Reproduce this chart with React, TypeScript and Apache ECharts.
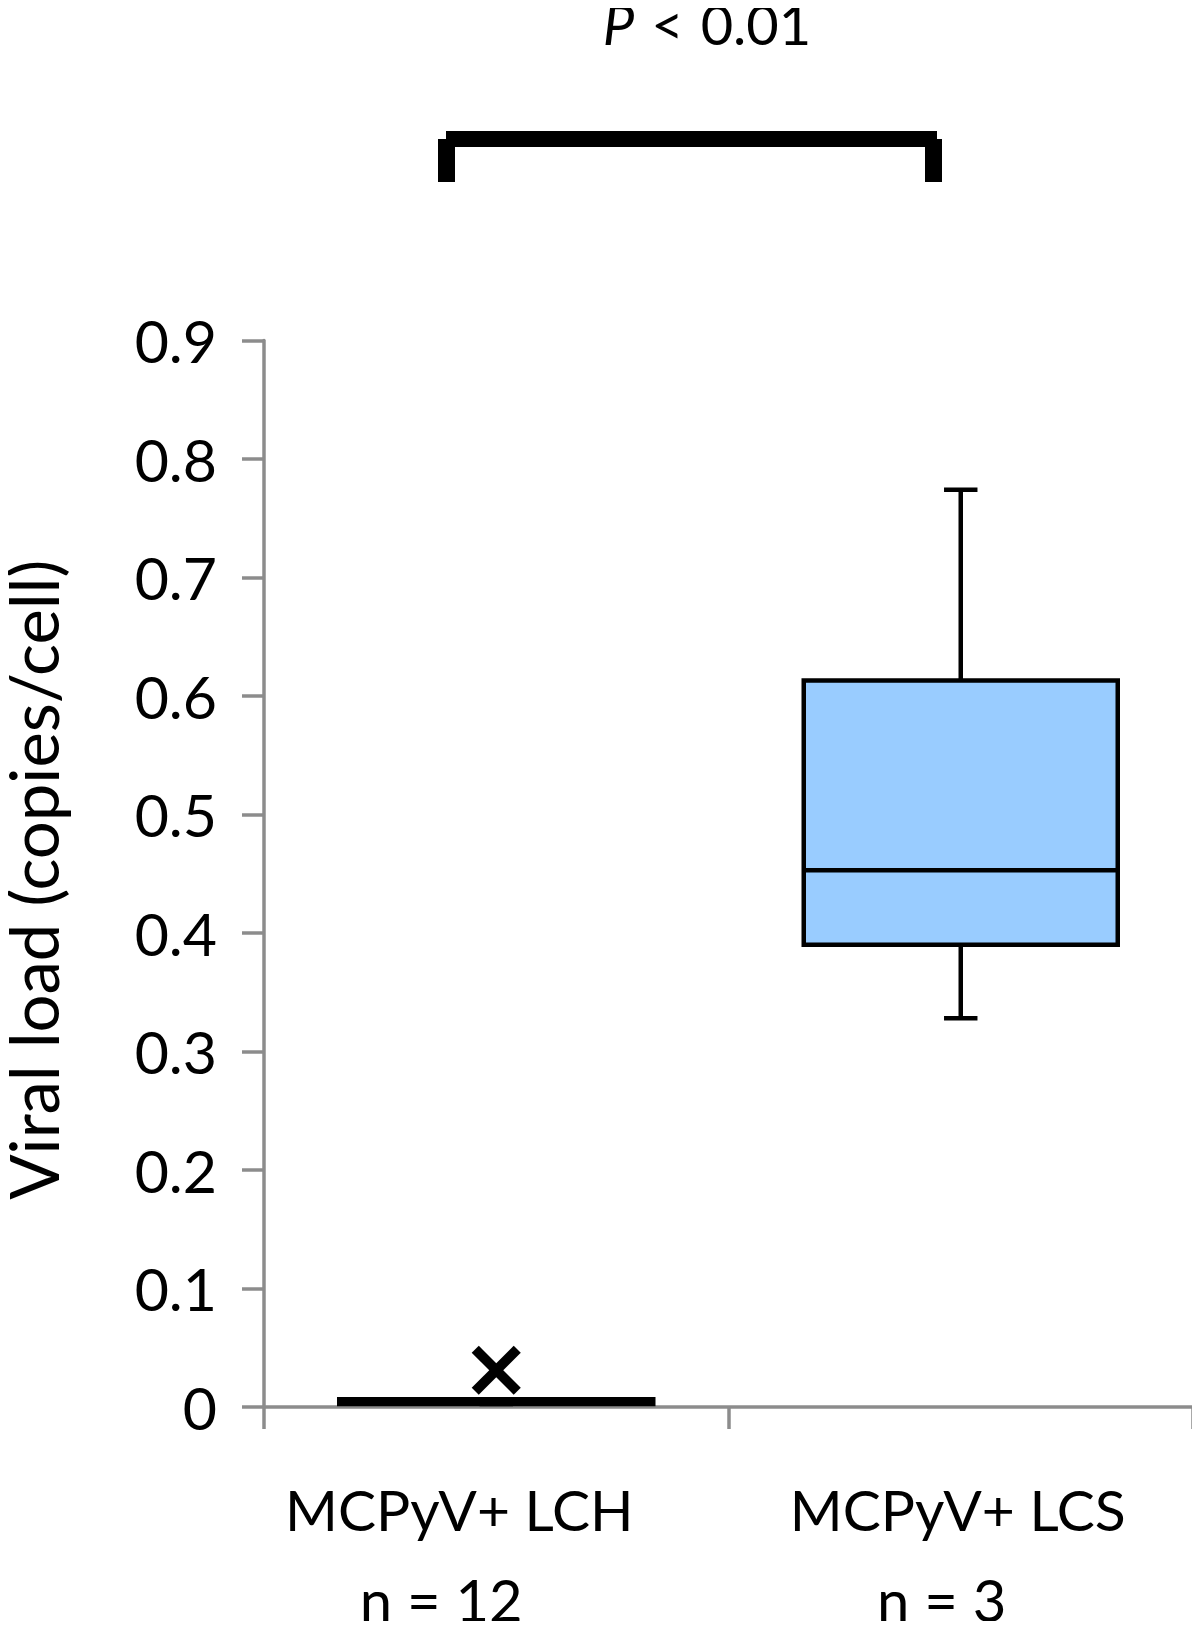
import React, { useEffect, useRef } from "react";
import * as echarts from "echarts";

const categories = ["MCPyV+ LCH", "MCPyV+ LCS"];
const nLabels = ["n = 12", "n = 3"];
const minVals = [0.0025, 0.328];
const q1Vals = [0.0025, 0.39];
const medianVals = [0.0045, 0.453];
const q3Vals = [0.0065, 0.613];
const maxVals = [0.0065, 0.774];
const meanVals: (number | null)[] = [0.031, null];
const yTicks = [0, 0.1, 0.2, 0.3, 0.4, 0.5, 0.6, 0.7, 0.8, 0.9];
const pText = ["P", "<", "0.01"];

const FONT = "Lato";

export default function App() {
  const ref = useRef<HTMLDivElement>(null);
  useEffect(() => {
    if (!ref.current) return;
    const chart = echarts.init(ref.current, null, { renderer: "svg" });
    const data = categories.map((_, i) => [
      i,
      minVals[i],
      q1Vals[i],
      medianVals[i],
      q3Vals[i],
      maxVals[i],
      meanVals[i] == null ? "-" : meanVals[i],
    ]);
    const line1Pad = [74, 6];
    const line2Pad = [110, 38];
    const rich: any = {};
    categories.forEach((_, i) => {
      rich["a" + i] = {
        fontFamily: FONT,
        fontSize: 57,
        color: "#000",
        lineHeight: 92,
        padding: [0, line1Pad[i], 0, 0],
      };
      rich["b" + i] = {
        fontFamily: FONT,
        fontSize: 58,
        color: "#000",
        lineHeight: 88,
        padding: [0, line2Pad[i], 0, 0],
      };
    });
    const option: any = {
      animation: false,
      backgroundColor: "#fff",
      grid: {
        left: 264,
        right: 7,
        top: 340.5,
        bottom: 222,
        containLabel: false,
        outerBoundsMode: "none",
      },
      xAxis: {
        type: "category",
        data: categories,
        boundaryGap: true,
        axisLine: { lineStyle: { color: "#8c8c8c", width: 3.5 } },
        axisTick: { show: true, length: 22, lineStyle: { color: "#8c8c8c", width: 3.5 } },
        axisLabel: {
          interval: 0,
          margin: 56,
          formatter: (v: string, i: number) => `{a${i}|${v}}\n{b${i}|${nLabels[i]}}`,
          rich,
        },
        splitLine: { show: false },
      },
      yAxis: {
        type: "value",
        min: yTicks[0],
        max: yTicks[yTicks.length - 1],
        interval: 0.1,
        name: "Viral load (copies/cell)",
        nameLocation: "middle",
        nameRotate: 90,
        nameGap: 198,
        nameTextStyle: { fontFamily: FONT, fontSize: 67, color: "#000", padding: [0, 12, 0, 0] },
        axisLine: { show: true, lineStyle: { color: "#8c8c8c", width: 3.5 } },
        axisTick: { show: true, length: 22, lineStyle: { color: "#8c8c8c", width: 3.5 } },
        axisLabel: {
          margin: 47,
          fontFamily: FONT,
          fontSize: 59,
          color: "#000",
          formatter: (v: number) => (v === 0 ? "0" : v.toFixed(1)),
        },
        splitLine: { show: false },
      },
      series: [
        {
          type: "custom",
          data,
          encode: { x: 0, y: [1, 2, 3, 4, 5] },
          renderItem: (params: any, api: any) => {
            const i = api.value(0);
            const band = api.size([1, 0])[0];
            const cx = api.coord([i, 0])[0];
            const yLo = api.coord([i, api.value(1)])[1];
            const yQ1 = api.coord([i, api.value(2)])[1];
            const yMed = api.coord([i, api.value(3)])[1];
            const yQ3 = api.coord([i, api.value(4)])[1];
            const yHi = api.coord([i, api.value(5)])[1];
            const halfBox = band * 0.338;
            const halfCap = band * 0.036;
            const stroke = { stroke: "#000", lineWidth: 4.5 };
            const children: any[] = [
              { type: "line", shape: { x1: cx, y1: yHi, x2: cx, y2: yQ3 }, style: stroke },
              { type: "line", shape: { x1: cx, y1: yQ1, x2: cx, y2: yLo }, style: stroke },
              { type: "line", shape: { x1: cx - halfCap, y1: yHi, x2: cx + halfCap, y2: yHi }, style: stroke },
              { type: "line", shape: { x1: cx - halfCap, y1: yLo, x2: cx + halfCap, y2: yLo }, style: stroke },
              {
                type: "rect",
                shape: { x: cx - halfBox, y: yQ3, width: halfBox * 2, height: yQ1 - yQ3 },
                style: { fill: "#99ccff", stroke: "#000", lineWidth: 4.5 },
              },
              { type: "line", shape: { x1: cx - halfBox, y1: yMed, x2: cx + halfBox, y2: yMed }, style: stroke },
            ];
            const mean = api.value(6);
            if (typeof mean === "number" && !isNaN(mean)) {
              const [mx, my] = api.coord([i, mean]);
              const h = 21;
              const xs = { stroke: "#000", lineWidth: 10 };
              children.push(
                { type: "line", shape: { x1: mx - h, y1: my - h, x2: mx + h, y2: my + h }, style: xs },
                { type: "line", shape: { x1: mx - h, y1: my + h, x2: mx + h, y2: my - h }, style: xs }
              );
            }
            return { type: "group", children };
          },
        },
      ],
      graphic: [
        { type: "rect", shape: { x: 446, y: 131, width: 491, height: 16 }, style: { fill: "#000" } },
        { type: "rect", shape: { x: 438, y: 139, width: 17, height: 43 }, style: { fill: "#000" } },
        { type: "rect", shape: { x: 925, y: 139, width: 17, height: 43 }, style: { fill: "#000" } },
        {
          type: "text",
          x: 707,
          y: 23.5,
          style: {
            text: `{p|${pText[0]}}{s| }{t|${pText[1]}}{s| }{t|${pText[2]}}`,
            align: "center",
            verticalAlign: "middle",
            rich: {
              p: { fontFamily: FONT, fontSize: 56, fontStyle: "italic", fill: "#000" },
              t: { fontFamily: FONT, fontSize: 56, fill: "#000" },
              s: { fontFamily: FONT, fontSize: 56, width: 17 },
            },
            fontFamily: FONT,
            fontSize: 56,
          },
        },
      ],
    };
    chart.setOption(option);
    return () => chart.dispose();
  }, []);
  return <div ref={ref} style={{ width: 1200, height: 1629, margin: -8 }} />;
}
